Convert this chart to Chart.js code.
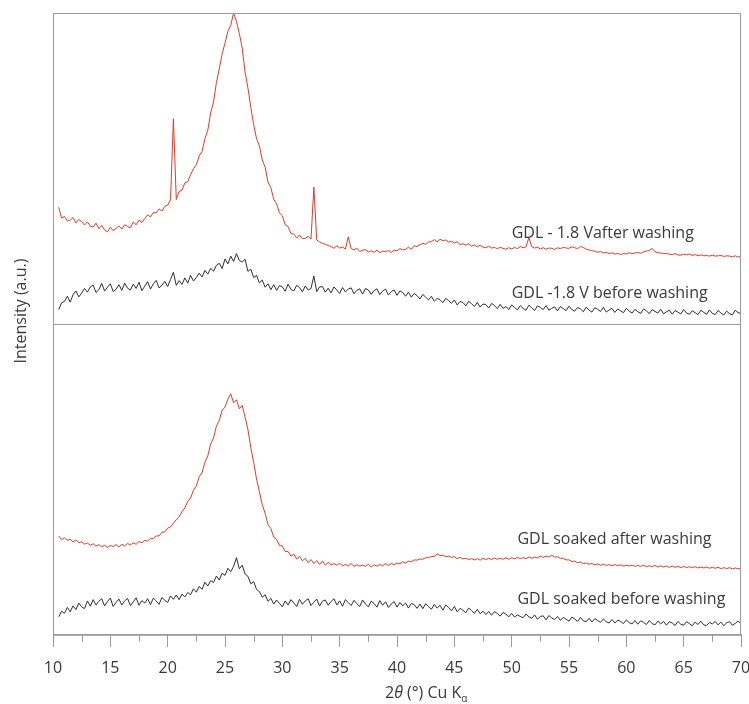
<!DOCTYPE html>
<html lang="en">
<head>
    <meta charset="UTF-8">
    <title>XRD GDL</title>
    <script src="https://cdn.jsdelivr.net/npm/chart.js"></script>
    <style>
        html, body { margin: 0; padding: 0; background: #fff; }
        .chart-container { width: 749px; height: 704px; position: relative; }
    </style>
</head>
<body>
<div class="chart-container">
    <canvas id="myChart"></canvas>
</div>

<script>
    // 2theta sampling grid, 10.5 to 70 deg every 0.25 deg
    const twoTheta = [];
    for (let i = 0; i <= 238; i++) twoTheta.push(10.5 + i * 0.25);

    // intensities, each panel on its own 0-100 scale
    const gdl18After = [
        37.5, 34.0,
        34.6, 33.1, 33.4, 34.2,  32.5, 33.6, 32.9, 31.8,  32.8, 31.5, 31.1, 32.4,  30.6, 31.7, 30.2, 29.6,
        31.1, 30.0, 30.7, 31.5,  30.5, 31.9, 31.3, 30.9,  32.8, 31.9, 33.4, 32.6,  33.9, 35.1, 34.4, 35.8,
        35.7, 37.0, 36.3, 37.8,  38.2, 39.9, 66.0, 40.0,  42.6, 43.0, 45.4, 45.7,  48.0, 49.9, 51.2, 54.0,
        55.5, 59.6, 62.3, 67.9,  71.4, 77.6, 82.0, 86.9,  90.3, 94.1, 96.0, 100.0, 97.3, 93.4, 88.7, 81.0,
        75.9, 69.6, 64.1, 59.6,  57.3, 52.7, 50.4, 45.6,  43.8, 40.1, 38.6, 35.7,  34.8, 31.9, 31.3, 29.1,
        28.9, 27.6, 28.6, 27.4,  27.5, 28.2, 27.3, 44.0,  27.0, 26.4, 25.9, 25.6,  25.2, 24.9, 24.3, 25.1,
        24.4, 24.7, 24.1, 28.0,  24.2, 23.8, 24.4, 23.3,  23.7, 23.9, 23.1, 23.5,  23.0, 23.7, 22.9, 23.4,
        23.2, 23.6, 23.0, 23.7,  23.5, 24.2, 23.8, 24.0,  24.7, 24.0, 25.1, 24.9,  25.5, 25.9, 25.6, 26.3,
        26.5, 27.1, 26.4, 27.2,  26.8, 27.0, 26.3, 26.6,  26.0, 26.4, 25.5, 25.8,  25.3, 25.8, 25.0, 25.4,
        24.8, 25.3, 24.7, 24.5,  25.0, 24.4, 24.6, 24.2,  24.6, 24.3, 24.0, 24.5,  24.1, 24.6, 24.2, 24.9,
        24.5, 24.8, 27.8, 24.9,  24.4, 24.7, 24.1, 24.5,  24.0, 24.4, 24.3, 23.9,  24.5, 24.2, 24.6, 24.4,
        24.3, 24.8, 24.5, 24.2,  24.9, 24.6, 24.0, 23.8,  23.5, 23.4, 23.0, 23.3,  22.8, 23.0, 22.6, 22.9,
        22.4, 22.7, 22.3, 22.6,  22.5, 22.9, 22.6, 22.8,  23.0, 22.7, 23.2, 23.4,  23.6, 24.3, 23.2, 22.9,
        22.8, 22.6, 22.7, 22.4,  22.3, 22.6, 22.2, 22.1,  22.4, 22.2, 22.5, 22.0,  22.3, 21.9, 22.2, 21.9,
        22.0, 21.8, 22.1, 21.8,  21.9, 22.0, 21.7, 21.9,  21.8, 21.6, 21.9, 21.5,
        21.7
    ];
    const gdl18Before = [
        4.6, 6.8,
        7.2, 8.9, 7.0, 9.4,  10.6, 8.7, 9.9, 11.4,  10.2, 11.9, 12.5, 10.1,  11.0, 13.0, 10.6, 11.8,
        12.9, 10.4, 11.1, 12.6,  10.8, 13.1, 11.5, 10.9,  12.8, 11.4, 13.4, 10.7,  12.1, 13.6, 11.2, 12.9,
        14.0, 11.6, 12.4, 13.7,  12.0, 14.3, 16.6, 12.4,  13.9, 12.7, 14.8, 13.1,  15.6, 13.8, 14.9, 16.3,
        15.1, 17.2, 16.0, 17.9,  16.9, 18.8, 19.5, 17.8,  20.9, 19.3, 21.8, 20.1,  22.6, 20.4, 19.9, 20.8,
        16.9, 17.6, 14.9, 15.6,  13.2, 14.1, 11.8, 12.9,  11.0, 12.6, 10.8, 12.3,  11.9, 10.5, 12.8, 11.1,
        10.6, 12.4, 11.7, 10.3,  12.2, 10.9, 11.4, 15.4,  10.4, 11.9, 12.0, 10.2,  11.5, 10.0, 11.9, 10.9,
        9.8, 11.7, 10.3, 11.2,  11.6, 9.7, 10.8, 11.3,  9.6, 11.4, 10.9, 9.5,  10.7, 11.3, 9.4, 10.6,
        11.2, 9.3, 10.4, 10.9,  9.2, 10.6, 10.1, 8.9,  10.2, 8.6, 9.8, 9.1,  8.0, 9.5, 8.6, 7.7,
        8.9, 7.3, 8.2, 7.8,  6.8, 8.2, 7.5, 6.6,  7.7, 6.1, 7.2, 6.9,  5.8, 7.3, 6.5, 5.6,
        6.9, 5.4, 6.4, 6.2,  5.1, 6.6, 5.9, 4.9,  6.3, 5.0, 5.6, 4.6,  6.1, 5.3, 4.5, 5.9,
        5.0, 4.4, 6.0, 5.2,  4.3, 5.8, 5.3, 4.6,  5.9, 4.4, 5.0, 5.5,  4.2, 5.6, 4.9, 4.3,
        5.7, 4.6, 4.1, 5.3,  4.8, 3.9, 5.4, 4.4,  3.8, 5.2, 4.7, 4.0,  5.3, 3.8, 4.5, 5.0,
        3.7, 4.8, 4.2, 3.6,  5.0, 4.1, 3.5, 4.7,  3.9, 3.4, 4.8, 4.2,  3.3, 4.6, 4.0, 3.5,
        4.7, 3.2, 3.9, 4.4,  3.1, 4.3, 3.8, 3.2,  4.6, 3.5, 3.1, 4.2,  3.6, 3.0, 4.4, 3.7,
        3.1, 4.5, 3.4, 3.0,  4.3, 3.5, 2.9, 4.1,  3.3, 2.9, 4.4, 3.6,
        3.4
    ];
    const soakedAfter = [
        31.8, 30.6,
        31.2, 30.4, 30.7, 29.9,  30.5, 29.6, 29.9, 29.2,  29.5, 28.8, 29.3, 28.5,  29.0, 28.3, 28.8, 28.1,
        28.7, 28.4, 29.0, 28.3,  29.1, 28.6, 29.4, 28.9,  29.6, 29.1, 30.0, 29.6,  30.4, 30.1, 31.0, 30.9,
        31.8, 31.8, 33.0, 33.1,  34.3, 34.7, 35.9, 37.0,  38.0, 39.6, 40.8, 42.9,  44.0, 46.5, 47.9, 50.8,
        52.2, 55.5, 57.6, 61.4,  63.3, 67.1, 69.0, 72.3,  73.2, 75.8, 77.5, 74.6,  75.6, 72.7, 73.8, 70.0,
        66.0, 60.2, 55.4, 50.1,  46.0, 41.8, 39.1, 35.4,  34.2, 31.4, 30.7, 28.7,  28.6, 26.8, 26.8, 25.3,
        25.9, 24.4, 25.2, 23.8,  24.6, 23.2, 24.2, 22.9,  23.9, 22.6, 23.7, 22.4,  23.3, 22.5, 22.9, 22.4,
        23.0, 22.2, 22.6, 22.1,  22.9, 22.0, 22.5, 22.1,  22.4, 22.0, 22.7, 21.8,  22.5, 22.1, 22.6, 22.2,
        22.9, 22.3, 22.9, 22.6,  23.1, 22.8, 23.5, 23.1,  23.7, 23.5, 24.1, 24.0,  24.4, 24.3, 24.8, 24.8,
        25.2, 25.2, 26.0, 25.5,  25.6, 25.1, 25.3, 24.9,  25.1, 24.5, 24.9, 24.4,  24.6, 24.2, 24.5, 24.1,
        24.5, 24.0, 24.6, 24.2,  24.6, 24.2, 24.7, 24.3,  24.6, 24.3, 24.8, 24.3,  24.8, 24.4, 24.9, 24.5,
        24.8, 24.5, 25.0, 24.6,  25.0, 24.7, 25.3, 24.9,  25.3, 25.0, 25.6, 25.0,  25.1, 24.6, 24.6, 24.1,
        24.1, 23.6, 23.7, 23.2,  23.4, 22.9, 23.1, 22.7,  22.9, 22.5, 22.8, 22.4,  22.7, 22.3, 22.6, 22.2,
        22.6, 22.2, 22.5, 22.1,  22.4, 22.1, 22.4, 22.0,  22.3, 22.0, 22.4, 21.9,  22.2, 21.9, 22.3, 21.8,
        22.2, 21.8, 22.1, 21.7,  22.1, 21.7, 22.0, 21.6,  22.0, 21.6, 21.9, 21.6,  21.9, 21.5, 21.8, 21.5,
        21.8, 21.4, 21.7, 21.4,  21.7, 21.3, 21.6, 21.3,  21.6, 21.2, 21.5, 21.2,
        21.3
    ];
    const soakedBefore = [
        5.8, 7.6,
        6.9, 8.8, 7.4, 9.3,  8.1, 10.2, 9.0, 8.4,  10.9, 9.2, 11.3, 9.6,  10.8, 11.6, 9.3, 10.7,
        11.8, 9.1, 10.4, 11.5,  9.6, 10.9, 11.7, 9.4,  10.6, 11.9, 9.5, 11.0,  10.2, 11.6, 9.7, 11.8,
        10.9, 9.8, 12.0, 11.1,  10.4, 12.5, 11.4, 12.8,  11.3, 13.1, 12.2, 13.6,  12.9, 14.8, 13.7, 15.6,
        14.6, 16.9, 15.7, 17.4,  16.8, 18.9, 17.6, 19.8,  19.1, 21.4, 20.3, 22.0,  24.8, 21.2, 22.4, 19.6,
        18.8, 16.4, 17.1, 14.6,  13.9, 12.1, 12.9, 10.8,  11.7, 9.9, 11.2, 10.1,  9.0, 10.9, 9.6, 11.3,
        10.2, 9.1, 11.4, 9.8,  10.9, 11.6, 9.4, 10.5,  11.5, 9.3, 10.8, 11.2,  9.5, 10.7, 11.6, 9.6,
        10.9, 9.2, 11.3, 10.4,  9.4, 11.1, 10.0, 9.1,  11.2, 9.9, 9.0, 10.8,  10.1, 8.9, 11.0, 9.5,
        10.6, 8.8, 9.9, 10.7,  8.9, 10.4, 9.3, 10.2,  8.6, 10.1, 9.7, 8.5,  9.9, 8.4, 10.0, 9.1,
        8.2, 9.8, 8.6, 9.5,  7.9, 9.6, 8.8, 7.7,  9.1, 7.4, 8.5, 7.9,  7.1, 8.6, 7.8, 6.9,
        8.2, 6.8, 7.6, 6.5,  7.5, 6.3, 7.4, 6.9,  6.0, 7.2, 6.6, 5.8,  6.9, 5.7, 6.4, 5.9,
        5.5, 6.7, 5.8, 5.3,  6.4, 5.0, 5.9, 6.1,  4.8, 6.2, 5.4, 4.9,  5.9, 4.6, 5.6, 5.0,
        4.4, 5.7, 5.1, 4.3,  5.6, 4.5, 4.2, 5.3,  4.1, 5.2, 4.6, 4.0,  5.1, 4.2, 3.8, 4.9,
        3.8, 4.7, 4.3, 3.6,  4.8, 3.9, 3.5, 4.6,  3.4, 4.5, 4.0, 3.3,  4.6, 3.6, 3.2, 4.4,
        3.5, 4.3, 3.1, 4.2,  3.8, 3.0, 4.3, 3.4,  3.1, 4.2, 3.6, 2.9,  4.1, 3.3, 4.4, 3.2,
        3.0, 4.0, 3.5, 4.3,  3.2, 4.1, 2.9, 3.9,  4.2, 3.1, 3.7, 4.4,
        3.6
    ];

    const xTicks = [10, 15, 20, 25, 30, 35, 40, 45, 50, 55, 60, 65, 70];
    const xMinorTicks = [12.5, 17.5, 22.5, 27.5, 32.5, 37.5, 42.5, 47.5, 52.5, 57.5, 62.5, 67.5];

    // curve labels: [text, 2theta, height in stacked units]
    const curveLabels = [
        ['GDL - 1.8 Vafter washing', 50.0, 127.6],
        ['GDL -1.8 V before washing', 50.0, 108.4],
        ['GDL soaked after washing', 50.5, 29.3],
        ['GDL soaked before washing', 50.5, 10.0]
    ];

    const RED = 'rgb(228, 58, 36)';
    const BLACK = '#2e2e2e';
    const FRAME = '#9a9a9a';
    const TEXT = '#3a3a3a';
    const FONT = '"Open Sans", sans-serif';

    // top panel sits on 100-200, bottom panel on 0-100
    function toPoints(values, offset) {
        return values.map((v, i) => ({ x: twoTheta[i], y: v + offset }));
    }

    const panelPlugin = {
        id: 'panels',
        afterDraw(chart) {
            const ctx = chart.ctx;
            const area = chart.chartArea;
            const xs = chart.scales.x;
            const ys = chart.scales.y;
            ctx.save();
            ctx.strokeStyle = FRAME;
            ctx.lineWidth = 1;
            ctx.strokeRect(area.left + 0.5, area.top + 0.5, area.right - area.left - 1, area.bottom - area.top);
            const mid = Math.round(ys.getPixelForValue(100)) + 0.5;
            ctx.beginPath();
            ctx.moveTo(area.left, mid);
            ctx.lineTo(area.right, mid);
            // minor ticks on the 2theta axis
            xMinorTicks.forEach(v => {
                const px = Math.round(xs.getPixelForValue(v)) + 0.5;
                ctx.moveTo(px, area.bottom);
                ctx.lineTo(px, area.bottom + 7);
            });
            ctx.stroke();

            ctx.fillStyle = TEXT;
            ctx.font = '16px ' + FONT;
            ctx.textAlign = 'left';
            ctx.textBaseline = 'alphabetic';
            curveLabels.forEach(l => {
                ctx.fillText(l[0], xs.getPixelForValue(l[1]), ys.getPixelForValue(l[2]));
            });

            // y title
            ctx.save();
            ctx.translate(26, 311);
            ctx.rotate(-Math.PI / 2);
            ctx.textAlign = 'center';
            ctx.fillText('Intensity (a.u.)', 0, 0);
            ctx.restore();

            // x title: 2θ (°) Cu Kα
            let x = 385;
            const y = 698;
            ctx.font = '16px ' + FONT;
            ctx.fillText('2', x, y);
            x += ctx.measureText('2').width;
            ctx.font = 'italic 16px ' + FONT;
            ctx.fillText('θ', x, y);
            x += ctx.measureText('θ').width;
            ctx.font = '16px ' + FONT;
            ctx.fillText(' (°) Cu K', x, y);
            x += ctx.measureText(' (°) Cu K').width;
            ctx.font = '10px ' + FONT;
            ctx.fillText('α', x, y + 4);
            ctx.restore();
        }
    };

    const ctx = document.getElementById('myChart').getContext('2d');
    const chart = new Chart(ctx, {
        type: 'line',
        data: {
            datasets: [
                { label: 'GDL - 1.8 V after washing', data: toPoints(gdl18After, 100), borderColor: RED },
                { label: 'GDL -1.8 V before washing', data: toPoints(gdl18Before, 100), borderColor: BLACK },
                { label: 'GDL soaked after washing', data: toPoints(soakedAfter, 0), borderColor: RED },
                { label: 'GDL soaked before washing', data: toPoints(soakedBefore, 0), borderColor: BLACK }
            ]
        },
        options: {
            responsive: true,
            maintainAspectRatio: false,
            animation: false,
            datasets: {
                line: { borderWidth: 1, pointRadius: 0, tension: 0, fill: false }
            },
            layout: {
                padding: { left: 53, top: 13, right: 8, bottom: 14 }
            },
            plugins: {
                legend: { display: false },
                tooltip: { enabled: false }
            },
            scales: {
                x: {
                    type: 'linear',
                    min: 10,
                    max: 70,
                    afterBuildTicks: axis => { axis.ticks = xTicks.map(v => ({ value: v })); },
                    // let the "70" label hang past the plot edge like the original
                    afterFit: axis => { axis.paddingLeft = 0; axis.paddingRight = 0; },
                    ticks: {
                        color: TEXT,
                        font: { family: FONT, size: 16 },
                        padding: 12,
                        maxRotation: 0
                    },
                    grid: { drawOnChartArea: false, tickLength: 12, color: FRAME },
                    border: { color: FRAME }
                },
                y: {
                    display: false,
                    min: 0,
                    max: 200
                }
            }
        },
        plugins: [panelPlugin]
    });
</script>
</body>
</html>
